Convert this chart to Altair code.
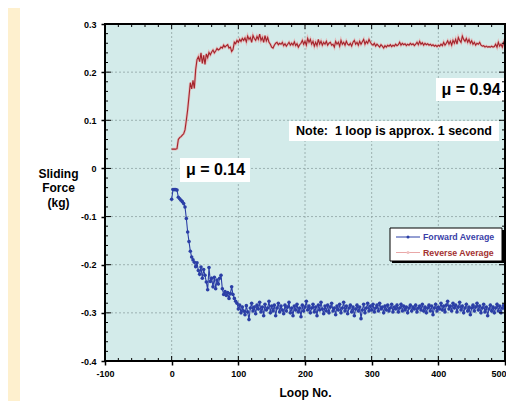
import altair as alt
import pandas as pd

# ---------------- data ----------------
loops = list(range(0, 501, 2))

reverse_avg = [
    0.040, 0.040, 0.040, 0.040, 0.041, 0.060, 0.064, 0.066, 0.069, 0.072,
    0.080, 0.100, 0.122, 0.150, 0.178, 0.165, 0.183, 0.166, 0.205, 0.226,
    0.232, 0.222, 0.240, 0.218, 0.235, 0.216, 0.238, 0.230, 0.241, 0.236,
    0.242, 0.246, 0.240, 0.244, 0.249, 0.246, 0.248, 0.252, 0.250, 0.256,
    0.252, 0.255, 0.257, 0.250, 0.252, 0.243, 0.247, 0.262, 0.259, 0.266,
    0.262, 0.268, 0.264, 0.270, 0.266, 0.271, 0.263, 0.275, 0.268, 0.272,
    0.262, 0.276, 0.270, 0.266, 0.274, 0.268, 0.279, 0.266, 0.272, 0.262,
    0.276, 0.265, 0.272, 0.262, 0.258, 0.252, 0.250, 0.256, 0.260, 0.262,
    0.257, 0.260, 0.258, 0.262, 0.255, 0.259, 0.254, 0.258, 0.262, 0.256,
    0.260, 0.256, 0.263, 0.255, 0.259, 0.252, 0.257, 0.260, 0.266, 0.258,
    0.264, 0.256, 0.270, 0.262, 0.268, 0.258, 0.264, 0.254, 0.262, 0.255,
    0.268, 0.258, 0.264, 0.256, 0.262, 0.258, 0.264, 0.256, 0.260, 0.262,
    0.256, 0.258, 0.252, 0.264, 0.258, 0.262, 0.254, 0.266, 0.258, 0.262,
    0.256, 0.264, 0.258, 0.256, 0.260, 0.254, 0.262, 0.266, 0.258, 0.262,
    0.256, 0.264, 0.258, 0.263, 0.268, 0.258, 0.264, 0.260, 0.268, 0.262,
    0.258, 0.256, 0.260, 0.254, 0.258, 0.255, 0.252, 0.257, 0.254, 0.250,
    0.255, 0.252, 0.256, 0.254, 0.257, 0.253, 0.256, 0.254, 0.258, 0.255,
    0.257, 0.262, 0.256, 0.260, 0.257, 0.259, 0.255, 0.258, 0.256, 0.260,
    0.257, 0.259, 0.255, 0.258, 0.262, 0.257, 0.264, 0.258, 0.261, 0.256,
    0.260, 0.257, 0.259, 0.256, 0.258, 0.255, 0.257, 0.254, 0.256, 0.253,
    0.256, 0.254, 0.258, 0.255, 0.262, 0.256, 0.260, 0.265, 0.258, 0.264,
    0.256, 0.266, 0.260, 0.268, 0.258, 0.272, 0.266, 0.262, 0.275, 0.268,
    0.264, 0.270, 0.262, 0.268, 0.260, 0.265, 0.258, 0.262, 0.256, 0.260,
    0.258, 0.262, 0.256, 0.254, 0.255, 0.252, 0.254, 0.252, 0.253, 0.252,
    0.254, 0.252, 0.253, 0.258, 0.252, 0.262, 0.254, 0.258, 0.252, 0.262,
    0.255,
]

forward_avg = [
    -0.064, -0.044, -0.044, -0.044, -0.045, -0.060, -0.063, -0.066, -0.069, -0.073,
    -0.080, -0.104, -0.132, -0.152, -0.172, -0.184, -0.190, -0.195, -0.204, -0.196,
    -0.212, -0.220, -0.205, -0.228, -0.210, -0.222, -0.236, -0.252, -0.206, -0.235,
    -0.228, -0.246, -0.226, -0.250, -0.232, -0.240, -0.228, -0.222, -0.250, -0.262,
    -0.256, -0.264, -0.258, -0.270, -0.260, -0.246, -0.262, -0.270, -0.276, -0.280,
    -0.292, -0.284, -0.300, -0.288, -0.296, -0.304, -0.285, -0.298, -0.314, -0.290,
    -0.280, -0.296, -0.288, -0.302, -0.284, -0.292, -0.278, -0.298, -0.288, -0.306,
    -0.282, -0.294, -0.290, -0.276, -0.300, -0.286, -0.296, -0.284, -0.306, -0.290,
    -0.280, -0.298, -0.286, -0.294, -0.302, -0.284, -0.296, -0.288, -0.278, -0.300,
    -0.290, -0.306, -0.286, -0.294, -0.282, -0.298, -0.290, -0.308, -0.284, -0.296,
    -0.288, -0.276, -0.294, -0.286, -0.300, -0.290, -0.282, -0.298, -0.288, -0.306,
    -0.284, -0.294, -0.278, -0.292, -0.302, -0.286, -0.296, -0.284, -0.300, -0.288,
    -0.280, -0.296, -0.290, -0.304, -0.286, -0.294, -0.282, -0.300, -0.290, -0.278,
    -0.296, -0.286, -0.302, -0.290, -0.284, -0.298, -0.288, -0.306, -0.292, -0.284,
    -0.296, -0.288, -0.312, -0.294, -0.282, -0.300, -0.290, -0.280, -0.296, -0.286,
    -0.294, -0.282, -0.298, -0.290, -0.284, -0.296, -0.280, -0.292, -0.288, -0.300,
    -0.286, -0.294, -0.284, -0.296, -0.290, -0.282, -0.298, -0.288, -0.292, -0.284,
    -0.298, -0.290, -0.282, -0.296, -0.286, -0.294, -0.288, -0.300, -0.290, -0.284,
    -0.296, -0.288, -0.292, -0.284, -0.298, -0.290, -0.286, -0.294, -0.282, -0.296,
    -0.288, -0.300, -0.290, -0.284, -0.296, -0.286, -0.304, -0.290, -0.282, -0.296,
    -0.288, -0.292, -0.280, -0.294, -0.286, -0.298, -0.284, -0.276, -0.292, -0.286,
    -0.296, -0.280, -0.290, -0.284, -0.298, -0.288, -0.278, -0.294, -0.286, -0.300,
    -0.290, -0.282, -0.296, -0.288, -0.304, -0.290, -0.284, -0.296, -0.288, -0.280,
    -0.294, -0.286, -0.300, -0.290, -0.282, -0.298, -0.288, -0.306, -0.292, -0.284,
    -0.296, -0.288, -0.300, -0.290, -0.282, -0.296, -0.286, -0.300, -0.290, -0.284,
    -0.292,
]

x_major = [-100, 0, 100, 200, 300, 400, 500]
y_major = [-0.4, -0.3, -0.2, -0.1, 0, 0.1, 0.2, 0.3]
x_grid = [0, 100, 200, 300, 400]
y_grid = [-0.3, -0.2, -0.1, 0, 0.1, 0.2]
x_minor = [-80, -60, -40, -20, 20, 40, 60, 80, 120, 140, 160, 180, 220, 240, 260, 280,
           320, 340, 360, 380, 420, 440, 460, 480]
y_minor = [-0.38, -0.36, -0.34, -0.32, -0.28, -0.26, -0.24, -0.22, -0.18, -0.16, -0.14,
           -0.12, -0.08, -0.06, -0.04, -0.02, 0.02, 0.04, 0.06, 0.08, 0.12, 0.14, 0.16,
           0.18, 0.22, 0.24, 0.26, 0.28]

# ---------------- layout ----------------
W, H = 400, 337
FONT = "Liberation Sans"
BEIGE = "#FEF0CE"
TEAL = "#D3EBEA"
BLUE = "#2B3FA6"
DARKRED = "#A3232B"

rev_df = pd.DataFrame({"loop": loops, "force": reverse_avg})
fwd_df = pd.DataFrame({"loop": loops, "force": forward_avg})
one = pd.DataFrame({"k": [0]})

xs = alt.Scale(domain=[-100, 500], nice=False, zero=False)
ys = alt.Scale(domain=[-0.4, 0.3], nice=False, zero=False)

xaxis = alt.Axis(values=x_major, labelExpr="'' + datum.value", grid=False, domain=False,
                 tickSize=4, tickColor="black", tickWidth=1.5, labelFont=FONT,
                 labelFontWeight="bold", labelFontSize=9, labelColor="black",
                 labelPadding=4, labelFlush=False, labelOverlap=False,
                 labelAlign={"condition": {"test": "datum.value == 500", "value": "right"},
                             "value": "center"},
                 labelOffset={"condition": {"test": "datum.value == 500", "value": 1},
                              "value": 0},
                 title="Loop No.", titleFont=FONT, titleFontSize=12, titleFontWeight="bold",
                 titleColor="black", titleY=31, titleBaseline="middle", zindex=1)
yaxis = alt.Axis(values=y_major, labelExpr="'' + datum.value", grid=False, domain=False,
                 tickSize=4, tickColor="black", tickWidth=1.5, labelFont=FONT,
                 labelFontWeight="bold", labelFontSize=9, labelColor="black",
                 labelPadding=5, labelFlush=False, labelOverlap=False,
                 title=["Sliding", "Force", "(kg)"], titleFont=FONT, titleFontSize=12,
                 titleFontWeight="bold", titleColor="black", titleAngle=0,
                 titleAlign="center", titleBaseline="middle", titleX=-47, titleY=149,
                 titleLineHeight=14.5, zindex=1)

X = alt.X("loop:Q", scale=xs, axis=xaxis)
Y = alt.Y("force:Q", scale=ys, axis=yaxis)

# background panels
white_panel = alt.Chart(one).mark_rect(color="white").encode(
    x=alt.value(-85), x2=alt.value(W + 1), y=alt.value(-16), y2=alt.value(H + 40))
plot_bg = alt.Chart(one).mark_rect(color=TEAL).encode(
    x=alt.value(0), x2=alt.value(W), y=alt.value(0), y2=alt.value(H))

# dashed grid
gx = alt.Chart(pd.DataFrame({"loop": x_grid})).mark_rule(
    color="#8FA3A3", strokeWidth=0.8, strokeDash=[2, 2]).encode(x=X)
gy = alt.Chart(pd.DataFrame({"force": y_grid})).mark_rule(
    color="#8FA3A3", strokeWidth=0.8, strokeDash=[2, 2]).encode(y=Y)

# series
rev_halo = alt.Chart(rev_df).mark_line(color="#E9A7A7", strokeWidth=2.6, opacity=0.7).encode(x=X, y=Y)
rev_line = alt.Chart(rev_df).mark_line(color=DARKRED, strokeWidth=1.1).encode(x=X, y=Y)
fwd_line = alt.Chart(fwd_df).mark_line(color=BLUE, strokeWidth=1.1).encode(x=X, y=Y)
fwd_pts = alt.Chart(fwd_df).mark_circle(color=BLUE, size=13, opacity=1).encode(x=X, y=Y)

# inward tick marks
def xticks(vals, y0, y1):
    return alt.Chart(pd.DataFrame({"loop": vals})).mark_rule(color="black", strokeWidth=1).encode(
        x=X, y=alt.value(y0), y2=alt.value(y1))

def yticks(vals, x0, x1):
    return alt.Chart(pd.DataFrame({"force": vals})).mark_rule(color="black", strokeWidth=1).encode(
        y=Y, x=alt.value(x0), x2=alt.value(x1))

ticks = [
    xticks(x_major, 0, 5), xticks(x_minor, 0, 3),
    xticks(x_major, H, H - 5), xticks(x_minor, H, H - 3),
    yticks(y_major, 0, 6), yticks(y_minor, 0, 3),
    yticks(y_major, W, W - 6), yticks(y_minor, W, W - 3),
]

frame = alt.Chart(one).mark_rect(color="white", fillOpacity=0, stroke="black", strokeWidth=2).encode(
    x=alt.value(0), x2=alt.value(W), y=alt.value(0), y2=alt.value(H))

# annotations
def box(x0, x1, y0, y1, color="white", stroke=None):
    m = alt.Chart(one).mark_rect(color=color) if stroke is None else \
        alt.Chart(one).mark_rect(color=color, stroke=stroke, strokeWidth=1)
    return m.encode(x=alt.value(x0), x2=alt.value(x1), y=alt.value(y0), y2=alt.value(y1))

def label(txt, x, y, size, color="black", align="center"):
    return alt.Chart(one).mark_text(text=txt, font=FONT, fontWeight="bold", fontSize=size,
                                    color=color, align=align, baseline="middle").encode(
        x=alt.value(x), y=alt.value(y))

mu94 = [box(331, 400, 54, 77), label("\u03bc = 0.94", 366, 65.5, 16)]
note = [box(184, 394, 97, 117), label("Note:\u00a0 1 loop is approx. 1 second", 289, 107, 12.5)]
mu14 = [box(75, 145, 134, 158), label("\u03bc = 0.14", 110.5, 146, 16)]

legend = [
    box(287, 399, 206, 239, color="black"),
    box(285, 397, 204, 237, color="white", stroke="black"),
    alt.Chart(one).mark_rule(color=BLUE, strokeWidth=1).encode(
        x=alt.value(291), x2=alt.value(315), y=alt.value(213)),
    alt.Chart(one).mark_circle(color=BLUE, size=9, opacity=1).encode(
        x=alt.value(303), y=alt.value(213)),
    alt.Chart(one).mark_rule(color="#E9A7A7", strokeWidth=1).encode(
        x=alt.value(291), x2=alt.value(315), y=alt.value(228.5)),
    alt.Chart(one).mark_circle(color="#F0C0C0", size=9, opacity=1).encode(
        x=alt.value(303), y=alt.value(228.5)),
    label("Forward Average", 318, 213, 8.8, color="#3A3FA8", align="left"),
    label("Reverse Average", 318, 228.5, 8.8, color="#A33232", align="left"),
]

chart = alt.layer(
    white_panel, plot_bg, gx, gy, rev_halo, rev_line, fwd_line, fwd_pts,
    *mu94, *note, *mu14, *legend, *ticks, frame,
).properties(
    width=W, height=H,
    autosize=alt.AutoSizeParams(type="none"),
    padding={"left": 97, "top": 16, "right": 1, "bottom": 40},
).configure(background=BEIGE).configure_view(strokeWidth=0)

chart.save("out.html", embed_options={"renderer": "svg", "actions": False})
